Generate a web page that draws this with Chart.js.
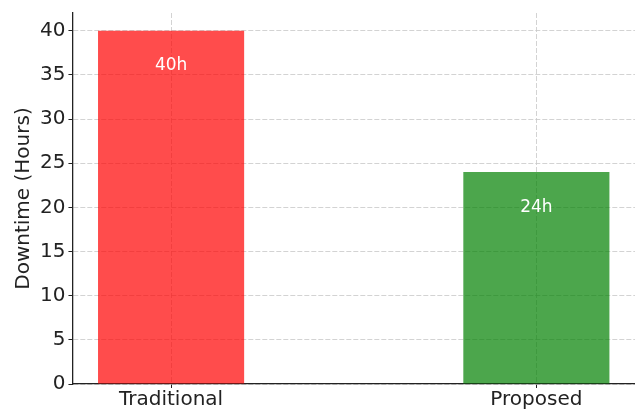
<!DOCTYPE html>
<html>
<head>
<meta charset="utf-8">
<script src="https://cdn.jsdelivr.net/npm/chart.js@4/dist/chart.umd.min.js"></script>
<style>
  html, body { margin: 0; padding: 0; background: #fff; }
  #wrap { width: 635px; height: 409px; }
</style>
</head>
<body>
<div id="wrap"><canvas id="chart"></canvas></div>
<script>
// Chart data
const categories = ['Traditional', 'Proposed'];
const downtimeHours = [40, 24];
const barLabels = ['40h', '24h'];
const barColors = ['rgba(255, 0, 0, 0.7)', 'rgba(0, 128, 0, 0.7)'];
const yTicks = [0, 5, 10, 15, 20, 25, 30, 35, 40];

const gridColor = 'rgba(200, 200, 200, 0.8)';

// Value labels inside the bars
const barLabelPlugin = {
    id: 'barLabels',
    afterDatasetsDraw(chart) {
        const ctx = chart.ctx;
        const xScale = chart.scales.x;
        const yScale = chart.scales.y;
        ctx.save();
        ctx.fillStyle = '#ffffff';
        ctx.font = '17px "DejaVu Sans"';
        ctx.textAlign = 'center';
        ctx.textBaseline = 'middle';
        downtimeHours.forEach((v, i) => {
            ctx.fillText(barLabels[i], xScale.getPixelForValue(i), yScale.getPixelForValue(v - 4));
        });
        ctx.restore();
    }
};

const ctx = document.getElementById('chart').getContext('2d');
new Chart(ctx, {
    type: 'bar',
    data: {
        datasets: [{
            data: categories.map((c, i) => ({ x: i, y: downtimeHours[i] })),
            backgroundColor: barColors,
            borderWidth: 0,
            barPercentage: 0.4,
            categoryPercentage: 1.0
        }]
    },
    options: {
        responsive: true,
        maintainAspectRatio: false,
        animation: false,
        layout: { padding: { top: 10, right: 0, left: 12, bottom: -3 } },
        plugins: {
            legend: { display: false },
            tooltip: { enabled: false }
        },
        scales: {
            x: {
                type: 'linear',
                min: -0.27,
                max: 1.27,
                offset: false,
                z: 1,
                afterBuildTicks: (scale) => {
                    scale.ticks = categories.map((c, i) => ({ value: i }));
                },
                ticks: {
                    callback: (v) => categories[v],
                    color: '#222',
                    font: { family: 'DejaVu Sans', size: 20 },
                    padding: 0,
                    maxRotation: 0,
                    autoSkip: false
                },
                grid: {
                    offset: false,
                    color: gridColor,
                    tickColor: '#222',
                    tickLength: 4,
                    tickBorderDash: []
                },
                border: { color: '#222', width: 1.3, dash: [5, 2] }
            },
            y: {
                min: 0,
                max: 42,
                z: 1,
                afterBuildTicks: (scale) => {
                    scale.ticks = yTicks.map(v => ({ value: v }));
                },
                ticks: {
                    color: '#222',
                    font: { family: 'DejaVu Sans', size: 20, lineHeight: 1.0 },
                    padding: 3
                },
                grid: {
                    color: gridColor,
                    tickColor: '#222',
                    tickLength: 4,
                    tickBorderDash: []
                },
                border: { color: '#222', width: 1.3, dash: [5, 2] },
                title: {
                    display: true,
                    text: 'Downtime (Hours)',
                    color: '#222',
                    font: { family: 'DejaVu Sans', size: 20 },
                    padding: { top: 0, bottom: 1 }
                }
            }
        }
    },
    plugins: [barLabelPlugin]
});
</script>
</body>
</html>
